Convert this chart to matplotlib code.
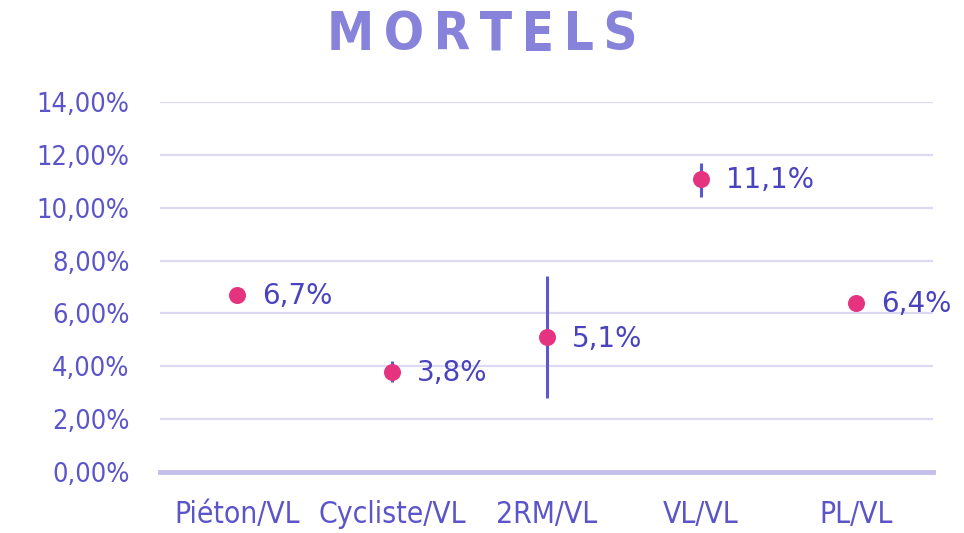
import matplotlib
matplotlib.use("Agg")
import matplotlib.pyplot as plt
from matplotlib.ticker import FuncFormatter

categories = ["Piéton/VL", "Cycliste/VL", "2RM/VL", "VL/VL", "PL/VL"]
values = [6.7, 3.8, 5.1, 11.1, 6.4]
err_low = [0.0, 0.4, 2.3, 0.7, 0.0]
err_high = [0.0, 0.4, 2.3, 0.6, 0.0]
labels = ["6,7%", "3,8%", "5,1%", "11,1%", "6,4%"]

TICK = "#5B55C9"
LABEL = "#4A43BE"
PINK = "#E5337F"
BAR = "#5E58CF"

fig = plt.figure(figsize=(9.64, 5.33), dpi=100)
ax = fig.add_axes([160 / 964, 61 / 533, 773 / 964, 370 / 533])

x = list(range(len(categories)))
ax.errorbar(x, values, yerr=[err_low, err_high], fmt="none", ecolor=BAR,
            elinewidth=2.2, capsize=0, zorder=3)
ax.scatter(x, values, s=150, color=PINK, zorder=4, linewidths=0)
for xi, v, lab in zip(x, values, labels):
    ax.annotate(lab, (xi, v), xytext=(18, -1), textcoords="offset points",
                va="center", ha="left", fontsize=20, color=LABEL,
                family="DejaVu Sans")

ax.set_xlim(-0.5, len(categories) - 0.5)
ax.set_ylim(0, 14)
ax.set_yticks(range(0, 15, 2))
ax.yaxis.set_major_formatter(FuncFormatter(lambda v, p: f"{v:.2f}%".replace(".", ",")))
ax.set_xticks(x)
ax.set_xticklabels(categories)
ax.grid(axis="y", color="#DCDAF2", lw=1.6, zorder=0)
ax.set_axisbelow(True)
for sp in ["top", "right", "left"]:
    ax.spines[sp].set_visible(False)
ax.spines["bottom"].set_color("#C4BFEA")
ax.spines["bottom"].set_linewidth(3.5)
ax.tick_params(length=0, colors=TICK)
ax.tick_params(axis="x", pad=20)
ax.tick_params(axis="y", pad=22)
for t in ax.get_yticklabels():
    t.set_family("DejaVu Sans")
    t.set_stretch("condensed")
    t.set_fontsize(19.5)
for t in ax.get_xticklabels():
    t.set_family("DejaVu Sans")
    t.set_stretch("condensed")
    t.set_fontsize(21.5)

fig.text(0.5, 0.935, "\u2009".join("MORTELS"), ha="center", va="center",
         fontsize=38, fontweight="bold", color="#8782DA", family="DejaVu Sans",
         fontstretch="condensed")

fig.savefig("out.png", dpi=100)
